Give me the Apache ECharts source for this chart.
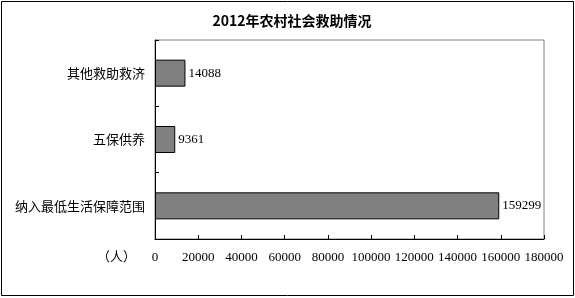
<!DOCTYPE html>
<html>
<head>
<meta charset="utf-8">
<script src="https://cdn.jsdelivr.net/npm/echarts@6/dist/echarts.min.js"></script>
<style>
  html, body { margin: 0; padding: 0; background: #fff; }
  #chart { width: 575px; height: 298px; }
</style>
</head>
<body>
<div id="chart"></div>
<script>
// 类目（自下而上）
const categories = ['纳入最低生活保障范围', '五保供养', '其他救助救济'];
// 人数
const values = [159299, 9361, 14088];
const titleText = '2012年农村社会救助情况';
const unitText = '（人）';

const chart = echarts.init(document.getElementById('chart'));

chart.setOption({
    animation: false,
    backgroundColor: '#fff',
    title: {
        text: titleText,
        left: 287,
        textAlign: 'center',
        top: 9,
        textStyle: {
            fontFamily: 'Noto Sans CJK SC',
            fontSize: 14,
            fontWeight: 'bold',
            color: '#000'
        }
    },
    grid: {
        left: 155,
        right: 31,
        top: 40,
        bottom: 59,
        show: true,
        borderColor: '#808080',
        borderWidth: 1
    },
    xAxis: {
        type: 'value',
        min: 0,
        max: 180000,
        interval: 20000,
        axisLine: { show: true, lineStyle: { color: '#000' } },
        axisTick: { show: true, inside: true, length: 4, lineStyle: { color: '#000' } },
        splitLine: { show: false },
        axisLabel: {
            margin: 12,
            color: '#000',
            fontSize: 13,
            fontFamily: 'Liberation Serif',
            formatter: v => String(v)
        }
    },
    yAxis: {
        type: 'category',
        data: categories,
        axisLine: { show: true, lineStyle: { color: '#000' } },
        axisTick: { show: true, inside: true, length: 4, lineStyle: { color: '#000' } },
        axisLabel: {
            margin: 10,
            color: '#000',
            fontSize: 13,
            fontFamily: 'Noto Sans CJK SC'
        }
    },
    series: [{
        type: 'bar',
        data: values,
        barWidth: 27,
        itemStyle: {
            color: '#808080',
            borderColor: '#000',
            borderWidth: 1
        },
        label: {
            show: true,
            position: 'right',
            distance: 3,
            color: '#000',
            fontSize: 13,
            fontFamily: 'Liberation Serif',
            formatter: p => String(p.value)
        }
    }],
    graphic: [
        {
            type: 'text',
            left: 97,
            top: 250,
            style: {
                text: unitText,
                fontSize: 13,
                fontFamily: 'Noto Sans CJK SC',
                fill: '#000'
            }
        },
        {
            type: 'rect',
            shape: { x: 1.5, y: 1.5, width: 572, height: 294 },
            style: { fill: 'none', stroke: '#000', lineWidth: 1 },
            silent: true
        }
    ]
});
</script>
</body>
</html>
